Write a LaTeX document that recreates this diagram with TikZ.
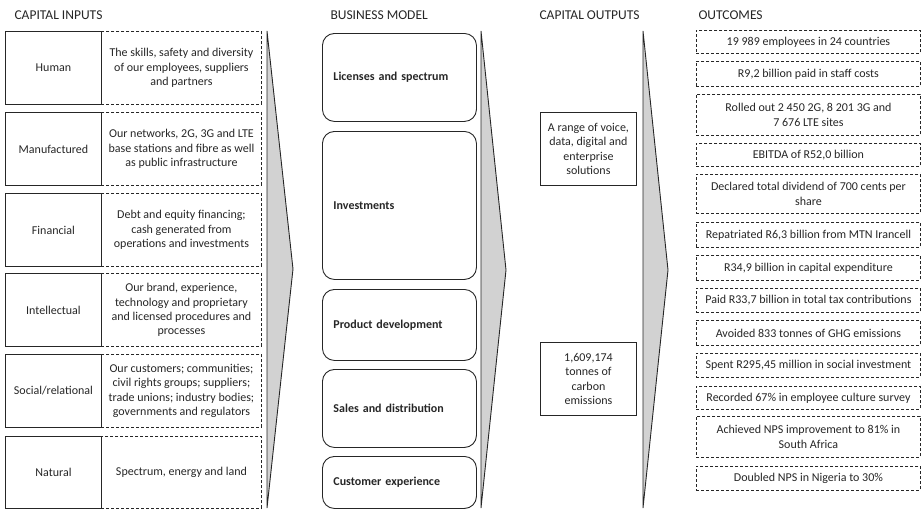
\documentclass[tikz,border=0pt]{standalone}
\usepackage{fontspec}
\setmainfont{Carlito}
\begin{document}
\begin{tikzpicture}[x=1pt,y=-1pt,
  txt/.style={font=\fontsize{12}{14.3}\selectfont, text=black!85},
  hdr/.style={font=\fontsize{13.5}{15}\selectfont, text=black!85, anchor=west},
  lbox/.style={txt, draw=black!85, line width=0.9pt, minimum width=96, minimum height=73, anchor=north west, align=center, inner sep=0pt},
  dbox/.style={txt, draw=black!85, line width=0.9pt, dash pattern=on 3pt off 2pt, minimum width=160, minimum height=73, anchor=north west, align=center, inner sep=0pt},
  bmbox/.style={font=\fontsize{12}{14.3}\selectfont\bfseries, text=black!85, draw=black!85, line width=0.9pt, rounded corners=12pt, minimum width=154, anchor=north west, align=left, text width=132, inner xsep=11pt, inner ysep=0pt},
  obox/.style={txt, draw=black!85, line width=0.9pt, minimum width=96, minimum height=73, anchor=north west, align=center, inner sep=0pt},
  ocbox/.style={txt, draw=black!85, line width=0.9pt, dash pattern=on 3pt off 2pt, minimum width=224, anchor=north west, align=center, inner sep=0pt},
  chev/.style={fill=gray!35, draw=black!85, line width=0.9pt, line join=miter}
]
\useasboundingbox (0,0) rectangle (921,509);

% headers
\node[hdr] (h1) at (11,15) {CAPITAL INPUTS};
\node[hdr] (h2) at (327,15) {BUSINESS MODEL};
\node[hdr] (h3) at (536,15) {CAPITAL OUTPUTS};
\node[hdr] (h4) at (695,15) {OUTCOMES};

% capital inputs
\node[lbox] (l1) at (5,31) {Human};
\node[dbox] (d1) at (101,31) {The skills, safety and diversity\\of our employees, suppliers\\and partners};
\node[lbox] (l2) at (5,112) {Manufactured};
\node[dbox] (d2) at (101,112) {Our networks, 2G, 3G and LTE\\base stations and fibre as well\\as public infrastructure};
\node[lbox] (l3) at (5,193) {Financial};
\node[dbox] (d3) at (101,193) {Debt and equity financing;\\cash generated from\\operations and investments};
\node[lbox] (l4) at (5,273) {Intellectual};
\node[dbox] (d4) at (101,273) {Our brand, experience,\\technology and proprietary\\and licensed procedures and\\processes};
\node[lbox] (l5) at (5,354) {Social/relational};
\node[dbox] (d5) at (101,354) {Our customers; communities;\\civil rights groups; suppliers;\\trade unions; industry bodies;\\governments and regulators};
\node[lbox, minimum height=72] (l6) at (5,436) {Natural};
\node[dbox, minimum height=72] (d6) at (101,436) {Spectrum, energy and land};

% chevrons
\draw[chev] (267,31) -- (293,269) -- (267,508) -- cycle;
\draw[chev] (481,31) -- (506,270) -- (481,508) -- cycle;
\draw[chev] (643,31) -- (668,270) -- (643,508) -- cycle;

% business model
\node[bmbox, minimum height=88] (b1) at (322,33) {Licenses and spectrum};
\node[bmbox, minimum height=148] (b2) at (322,131) {Investments};
\node[bmbox, minimum height=71] (b3) at (322,289) {Product development};
\node[bmbox, minimum height=78] (b4) at (322,369) {Sales and distribution};
\node[bmbox, minimum height=52] (b5) at (322,456) {Customer experience};

% capital outputs
\node[obox] (o1) at (540,112) {A range of voice,\\data, digital and\\enterprise\\solutions};
\node[obox] (o2) at (540,342) {1,609,174\\tonnes of\\carbon\\emissions};

% outcomes
\node[ocbox, minimum height=23] (c1) at (696,30) {19 989 employees in 24 countries};
\node[ocbox, minimum height=25] (c2) at (696,61) {R9,2 billion paid in staff costs};
\node[ocbox, minimum height=41] (c3) at (696,94) {Rolled out 2 450 2G, 8 201 3G and\\7 676 LTE sites};
\node[ocbox, minimum height=23] (c4) at (696,143) {EBITDA of R52,0 billion};
\node[ocbox, minimum height=39] (c5) at (696,174) {Declared total dividend of 700 cents per\\share};
\node[ocbox, minimum height=25] (c6) at (696,222) {Repatriated R6,3 billion from MTN Irancell};
\node[ocbox, minimum height=25] (c7) at (696,255) {R34,9 billion in capital expenditure};
\node[ocbox, minimum height=24] (c8) at (696,288) {Paid R33,7 billion in total tax contributions};
\node[ocbox, minimum height=25] (c9) at (696,320) {Avoided 833 tonnes of GHG emissions};
\node[ocbox, minimum height=24] (c10) at (696,353) {Spent R295,45 million in social investment};
\node[ocbox, minimum height=23] (c11) at (696,386) {Recorded 67\% in employee culture survey};
\node[ocbox, minimum height=41] (c12) at (696,416) {Achieved NPS improvement to 81\% in\\South Africa};
\node[ocbox, minimum height=24] (c13) at (696,466) {Doubled NPS in Nigeria to 30\%};
\end{tikzpicture}
\end{document}
